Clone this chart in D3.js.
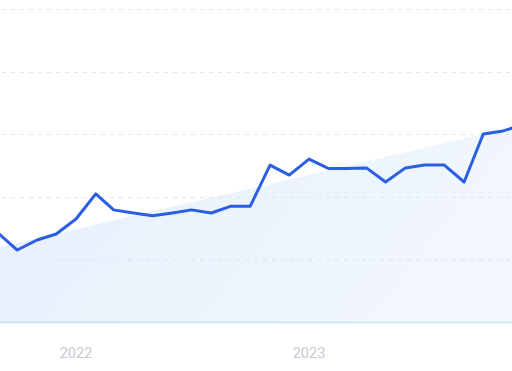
<!DOCTYPE html>
<html>
<head>
<meta charset="utf-8">
<script src="https://cdn.jsdelivr.net/npm/d3@7"></script>
<style>
  html, body { margin: 0; padding: 0; background: #fff; }
  svg { display: block; }
</style>
</head>
<body>
<div id="chart"></div>
<script>
// monthly values, first of each month
const months = [
  "2021-09", "2021-10", "2021-11", "2021-12",
  "2022-01", "2022-02", "2022-03", "2022-04", "2022-05", "2022-06",
  "2022-07", "2022-08", "2022-09", "2022-10", "2022-11", "2022-12",
  "2023-01", "2023-02", "2023-03", "2023-04", "2023-05", "2023-06",
  "2023-07", "2023-08", "2023-09", "2023-10", "2023-11", "2023-12"
];
const values = [
  28.5, 23.1, 26.3, 28.2,
  33.0, 41.0, 35.9, 34.9, 34.0, 34.9,
  35.9, 34.9, 37.1, 37.1, 50.2, 47.0,
  52.1, 49.1, 49.1, 49.3, 44.8, 49.3,
  50.2, 50.2, 44.8, 60.1, 61.1, 63.0
];
// trend band: start and end values
const trendMonths = ["2021-09", "2023-12"];
const trendValues = [23.9, 63.0];
const yTicks = [0, 20, 40, 60, 80, 100];
const yearTicks = ["2022", "2023"];

const width = 512, height = 371;
const parseMonth = d3.timeParse("%Y-%m");
const parseYear = d3.timeParse("%Y");

const data = months.map((m, i) => ({ date: parseMonth(m), value: values[i] }));
const trend = trendMonths.map((m, i) => ({ date: parseMonth(m), value: trendValues[i] }));

const x = d3.scaleTime()
  .domain([parseYear("2022"), parseYear("2023")])
  .range([76, 309]);
const y = d3.scaleLinear().domain([0, 100]).range([322.4, 9]);

const svg = d3.select("#chart")
  .append("svg")
  .attr("width", width)
  .attr("height", height);

const defs = svg.append("defs");
const grad = defs.append("linearGradient")
  .attr("id", "areaFill")
  .attr("x1", "0%").attr("y1", "0%")
  .attr("x2", "100%").attr("y2", "30%");
grad.append("stop").attr("offset", "0%").attr("stop-color", "#e5effc");
grad.append("stop").attr("offset", "100%").attr("stop-color", "#f2f7fd");

// trend area
const area = d3.area()
  .x((d) => x(d.date))
  .y0(y(0))
  .y1((d) => y(d.value));

svg.append("path")
  .datum(trend)
  .attr("d", area)
  .attr("fill", "url(#areaFill)");

// gridlines
svg.append("g")
  .selectAll("line")
  .data(yTicks.filter((t) => t > 0))
  .join("line")
  .attr("x1", 2)
  .attr("x2", width)
  .attr("y1", (d) => Math.round(y(d)) + 0.5)
  .attr("y2", (d) => Math.round(y(d)) + 0.5)
  .attr("stroke", "#dce5f6")
  .attr("stroke-width", 1)
  .attr("stroke-dasharray", "4 5");

// baseline
svg.append("line")
  .attr("x1", 0)
  .attr("x2", width)
  .attr("y1", y(0))
  .attr("y2", y(0))
  .attr("stroke", "#c4e1fb")
  .attr("stroke-width", 1.5);

// year labels
svg.append("g")
  .selectAll("text")
  .data(yearTicks.map((t) => parseYear(t)))
  .join("text")
  .attr("x", (d) => x(d))
  .attr("y", 358)
  .attr("text-anchor", "middle")
  .style("font-family", "Roboto, 'Noto Sans', Arial, sans-serif")
  .style("font-size", "14.5px")
  .style("fill", "#c8c9d2")
  .text((d) => d3.timeFormat("%Y")(d));

// main line
const line = d3.line()
  .x((d) => x(d.date))
  .y((d) => y(d.value));

svg.append("path")
  .datum(data)
  .attr("d", line)
  .attr("fill", "none")
  .attr("stroke", "#2b5fe3")
  .attr("stroke-width", 3)
  .attr("stroke-linejoin", "round")
  .attr("stroke-linecap", "round");
</script>
</body>
</html>
